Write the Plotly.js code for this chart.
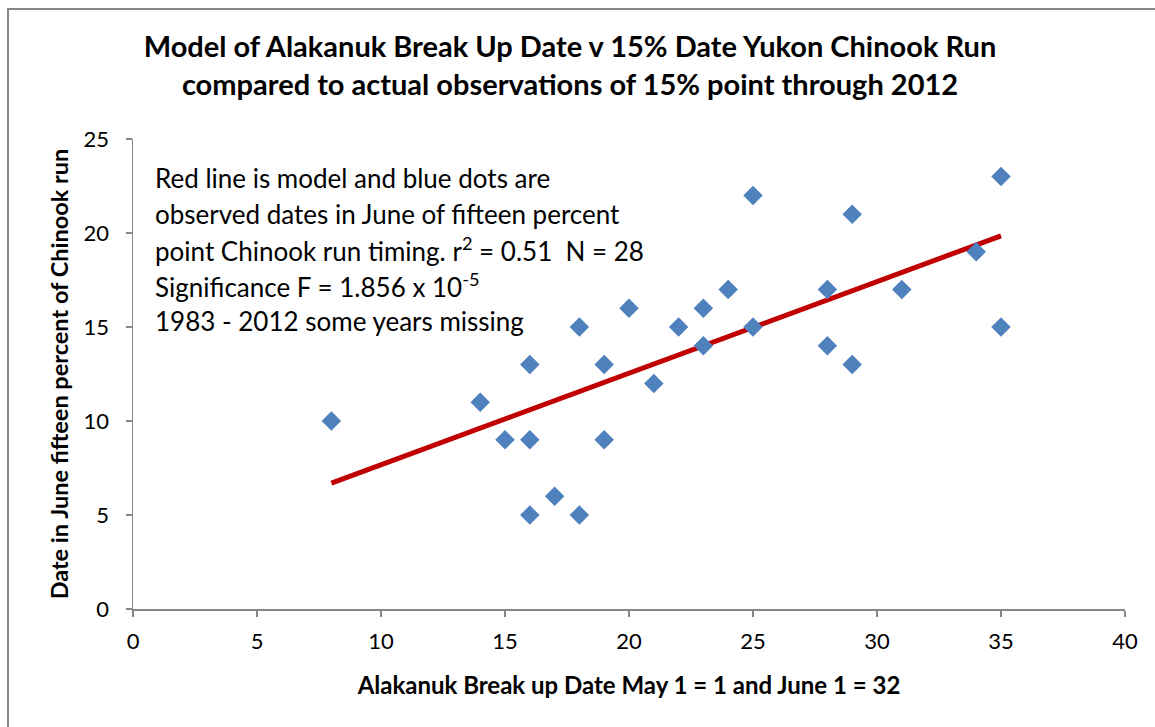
<!DOCTYPE html>
<html>
<head>
<meta charset="utf-8">
<script src="https://cdn.plot.ly/plotly-3.0.1.min.js"></script>
<style>
  html, body { margin: 0; padding: 0; background: #fff; }
  #chart { width: 1155px; height: 727px; }
</style>
</head>
<body>
<div id="chart"></div>
<script>
// Observed points: Alakanuk break-up date (May 1 = 1) vs June date of 15% Chinook run point
const breakUpDate = [8, 14, 15, 16, 16, 16, 17, 18, 18, 19, 19, 20, 21, 22, 23, 23, 24, 25, 25, 28, 28, 29, 29, 31, 34, 35, 35];
const fifteenPctDate = [10, 11, 9, 13, 9, 5, 6, 15, 5, 13, 9, 16, 12, 15, 16, 14, 17, 22, 15, 17, 14, 21, 13, 17, 19, 23, 15];

// Model (regression) line end points
const modelX = [8, 35];
const modelY = [6.7, 19.85];

const titleText = '<b>Model of Alakanuk Break Up Date v 15% Date Yukon Chinook Run<br>compared to actual observations of 15% point through 2012</b>';
const xTitle = '<b>Alakanuk Break up Date May 1 = 1 and June 1 = 32</b>';
const yTitle = '<b>Date in June fifteen percent of Chinook run</b>';
const noteLines = [
  'Red line is model and blue dots are',
  'observed dates in June of fifteen percent',
  'point Chinook run timing. r<sup>2</sup> = 0.51  N = 28',
  'Significance F = 1.856 x 10<sup>-5</sup>',
  '1983 - 2012 some years missing'
];

const FONT = 'Lato, "Open Sans", "DejaVu Sans", sans-serif';

const traces = [
  {
    x: modelX, y: modelY, type: 'scatter', mode: 'lines',
    line: { color: '#C00000', width: 5 },
    hoverinfo: 'skip', showlegend: false
  },
  {
    x: breakUpDate, y: fifteenPctDate, type: 'scatter', mode: 'markers',
    marker: { symbol: 'diamond', size: 15, color: '#4F81BD', line: { width: 0 } },
    showlegend: false
  }
];

// Note lines placed with Excel-like line spacing (in paper units of the plot area)
const noteAnnotations = noteLines.map((t, i) => ({
  text: t, xref: 'paper', yref: 'paper',
  x: (153 - 133) / 992, y: (609 - (178 + 35.8 * i)) / 470,
  xanchor: 'left', yanchor: 'middle', align: 'left', showarrow: false,
  font: { family: FONT, size: 26, color: '#000' }
}));

const layout = {
  width: 1155, height: 727,
  paper_bgcolor: '#fff', plot_bgcolor: '#fff',
  margin: { l: 133, r: 30, t: 139, b: 118 },
  font: { family: FONT, color: '#000', size: 22 },
  title: {
    text: titleText,
    font: { family: FONT, size: 29, color: '#000' },
    x: (570 - 133) / 992, xref: 'paper', xanchor: 'center',
    y: 1 - 57 / 727, yref: 'container', yanchor: 'middle'
  },
  xaxis: {
    range: [0, 40], dtick: 5, tick0: 0,
    showgrid: false, zeroline: false,
    showline: true, linecolor: '#868686', linewidth: 1.5,
    ticks: 'outside', ticklen: 6, tickcolor: '#868686', tickwidth: 1.5,
    ticklabelstandoff: 6,
    tickfont: { family: FONT, size: 22, color: '#000' },
    title: { text: xTitle, font: { family: FONT, size: 24, color: '#000' }, standoff: 24 },
    fixedrange: true
  },
  yaxis: {
    range: [0, 25], dtick: 5, tick0: 0,
    showgrid: false, zeroline: false,
    showline: true, linecolor: '#868686', linewidth: 1.5,
    ticks: 'outside', ticklen: 6, tickcolor: '#868686', tickwidth: 1.5,
    ticklabelstandoff: 12,
    tickfont: { family: FONT, size: 22, color: '#000' },
    title: { text: yTitle, font: { family: FONT, size: 23.5, color: '#000' }, standoff: 8 },
    fixedrange: true
  },
  annotations: noteAnnotations,
  shapes: [
    {
      type: 'rect', xref: 'paper', yref: 'paper',
      x0: (8 - 133) / 992, x1: (1170 - 133) / 992,
      y0: (609 - 740) / 470, y1: (609 - 9) / 470,
      line: { color: '#868686', width: 2 }, fillcolor: 'rgba(0,0,0,0)', layer: 'below'
    }
  ]
};

Plotly.newPlot('chart', traces, layout, { displayModeBar: false, staticPlot: true });
</script>
</body>
</html>
